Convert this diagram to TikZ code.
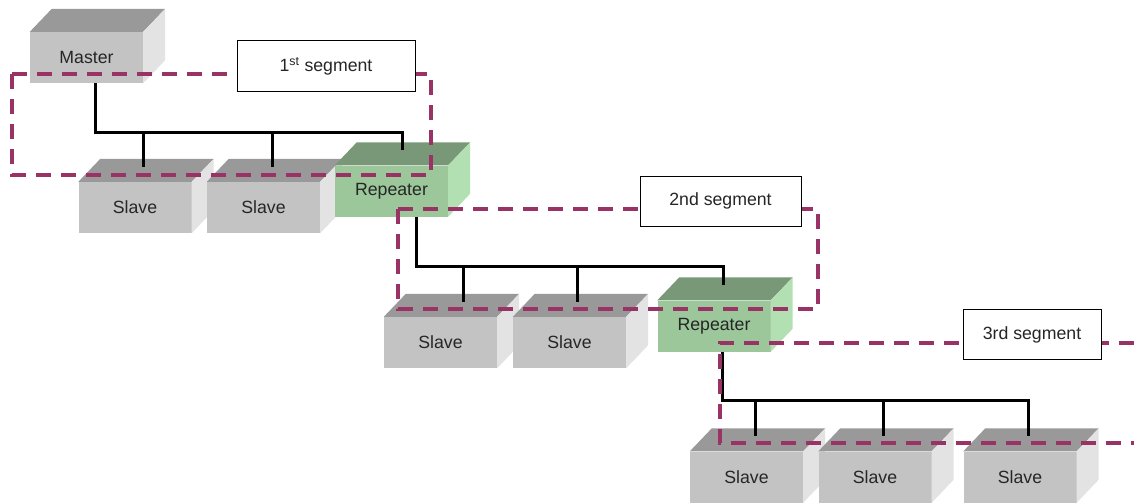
\documentclass[tikz,border=0pt]{standalone}
\usepackage{fontspec}
\setmainfont{Liberation Sans}
\definecolor{txtgrey}{RGB}{38,38,38}
\definecolor{boxfront}{RGB}{195,195,195}
\definecolor{boxtop}{RGB}{153,153,153}
\definecolor{boxside}{RGB}{227,227,227}
\definecolor{repfront}{RGB}{155,199,155}
\definecolor{reptop}{RGB}{120,152,120}
\definecolor{repside}{RGB}{178,224,178}
\definecolor{segline}{RGB}{153,51,102}

\tikzset{
    front/.style={minimum width=113pt, minimum height=51pt, inner sep=0pt,
        text=txtgrey, font=\fontsize{17.7}{20}\selectfont},
    grey-front/.style={front, fill=boxfront},
    grey-top/.style={fill=boxtop},
    grey-side/.style={fill=boxside},
    green-front/.style={front, fill=repfront},
    green-top/.style={fill=reptop},
    green-side/.style={fill=repside},
    bus/.style={black, line width=3pt},
    segment/.style={segline, line width=4pt, dash pattern=on 15pt off 10pt},
    seglabel/.style={draw=black, line width=1pt, fill=white, minimum height=50pt,
        inner sep=0pt, text=txtgrey, font=\fontsize{17.7}{20}\selectfont}
}

\begin{document}
\begin{tikzpicture}[x=1pt,y=-1pt]
    \useasboundingbox (0,0) rectangle (1134,503);

    % boxes, left to right
    \foreach \nm/\px/\py/\txt/\kind/\dx in {
        master/86.5/57.5/Master/grey/8.5,
        s1/135/207.5/Slave/grey/8,
        s2/263.5/207.5/Slave/grey/8.5,
        rep1/391.5/191/Repeater/green/10.5,
        s3/440.5/342.5/Slave/grey/22.5,
        s4/569.5/342.5/Slave/grey/7.5,
        rep2/714/326/Repeater/green/9,
        s5/746.5/477/Slave/grey/8.5,
        s6/875/477/Slave/grey/8,
        s7/1020/477/Slave/grey/8}{
        \node[\kind-front] (\nm) at (\px,\py) {\txt};
        \fill[\kind-top] (\nm.north west) -- ++(22,-23) -- ([shift={(22,-23)}]\nm.north east) -- (\nm.north east) -- cycle;
        \fill[\kind-side] (\nm.north east) -- ++(22,-23) -- ([shift={(22,-23)}]\nm.south east) -- (\nm.south east) -- cycle;
        \coordinate (\nm-in) at ([shift={(\dx,-15)}]\nm.north);
    }

    % bus lines
    \draw[bus] ([xshift=8.5pt]master.south) -- ++(0,49) coordinate (bus1) -| (rep1-in);
    \draw[bus] (bus1 -| s1-in) -- (s1-in);
    \draw[bus] (bus1 -| s2-in) -- (s2-in);

    \draw[bus] ([xshift=25pt]rep1.south) -- ++(0,50) coordinate (bus2) -| (rep2-in);
    \draw[bus] (bus2 -| s3-in) -- (s3-in);
    \draw[bus] (bus2 -| s4-in) -- (s4-in);

    \draw[bus] ([xshift=8pt]rep2.south) -- ++(0,49) coordinate (bus3) -| (s7-in);
    \draw[bus] (bus3 -| s5-in) -- (s5-in);
    \draw[bus] (bus3 -| s6-in) -- (s6-in);

    % segments
    \draw[segment] (12,74) rectangle (431,175);
    \draw[segment] (398,209) rectangle (818,309);
    \draw[segment] (1134,343) -- (720,343) -- (720,443) -- (1134,443);

    \node[seglabel, minimum width=178pt] (seg1) at (326,66) {1\textsuperscript{st} segment};
    \node[seglabel, minimum width=161pt] (seg2) at (720.5,201) {2nd segment};
    \node[seglabel, minimum width=138pt] (seg3) at (1032,334.5) {3rd segment};
\end{tikzpicture}
\end{document}
